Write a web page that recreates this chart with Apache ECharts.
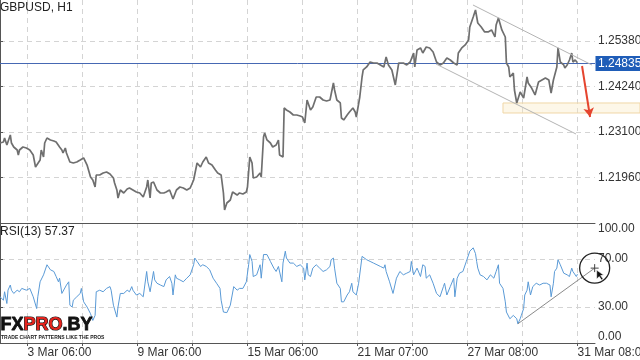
<!DOCTYPE html>
<html><head><meta charset="utf-8">
<script src="https://cdn.jsdelivr.net/npm/echarts@6/dist/echarts.min.js"></script>
<style>html,body{margin:0;padding:0;background:#fff;}#c{width:640px;height:360px;}</style>
</head><body><div id="c"></div>
<script>
// ---- data (hour index from the left edge of the chart) ----
const priceHours = [0,3,4,6,9,10,12,15,16,17,20,23,26,29,31,32,35,36,38,39,41,44,47,49,52,54,55,57,58,61,64,67,70,73,76,79,81,83,84,87,90,93,96,99,100,102,103,105,108,111,113,116,119,122,125,128,129,131,132,134,137,140,143,145,148,151,154,157,160,163,166,169,
172,175,177,180,182,185,188,190,193,195,196,198,201,203,207,209,212,215,216,218,220,221,224,227,228,230,231,233,236,238,241,243,244,247,248,250,253,256,259,262,264,266,268,269,271,273,276,279,282,285,288,291,292,294,297,298,300,303,305,308,310,311,314,316,317,320,323,326,329,332,335,337,339,342,345,348,
349,352,355,358,361,362,364,367,369,372,375,378,381,384,387,390,393,396,399,400,403,406,409,410,413,415,417,420,423,426,429,432,433,435,438,441,442,444,445,448,449,451,454,457,460,461,464,467,470,473,476,479,481,483,486,487,489,492,493,495,497,499,500,502,504];
const priceValues = [1.22824,1.22849,1.22950,1.22774,1.23025,1.22824,1.22724,1.22649,1.22524,1.22649,1.22724,1.22699,1.22649,1.22524,1.22223,1.22273,1.22398,1.22649,1.22474,1.22824,1.22950,1.22900,1.22875,1.22849,1.22724,1.22649,1.22574,1.22699,1.22574,1.22348,1.22323,1.22348,1.22398,1.22449,1.22273,1.21973,1.21897,1.21722,1.22023,1.22023,1.22073,1.22098,1.22048,1.21947,1.21822,1.21647,1.21446,1.21647,1.21572,1.21672,1.21697,1.21647,1.21597,1.21572,1.21471,1.21722,1.21897,1.21446,1.21822,1.21847,1.21647,1.21572,1.21572,1.21597,1.21647,1.21421,1.21647,1.21722,1.21697,1.21647,1.21697,1.21897,
1.22323,1.22223,1.22348,1.22474,1.22323,1.22273,1.22148,1.22073,1.22023,1.21572,1.21146,1.21321,1.21396,1.21597,1.21521,1.21572,1.21546,1.21597,1.21722,1.22474,1.22323,1.21947,1.21973,1.22073,1.21973,1.22975,1.23075,1.22900,1.22824,1.22724,1.22774,1.22900,1.22524,1.22474,1.23701,1.23651,1.23601,1.23526,1.23526,1.23501,1.23476,1.23326,1.23902,1.23952,1.23651,1.23726,1.23977,1.23977,1.23902,1.23877,1.23902,1.24328,1.24152,1.23902,1.23827,1.23451,1.23401,1.23526,1.23601,1.23701,1.23601,1.23476,1.23977,1.24478,1.24654,1.24729,1.24854,1.24829,1.24829,1.24779,1.24729,1.24979,1.24779,1.24654,1.24278,1.24829,
1.24854,1.24829,1.24779,1.24854,1.25079,1.24729,1.25155,1.25205,1.25079,1.25230,1.25205,1.25105,1.24854,1.24779,1.24829,1.24954,1.24904,1.24829,1.24779,1.25079,1.25205,1.25280,1.25405,1.25731,1.25981,1.26157,1.25831,1.25731,1.25606,1.25606,1.25656,1.25480,1.25781,1.25956,1.25656,1.25480,1.24829,1.24729,1.24478,1.24578,1.24152,1.23827,1.24102,1.23952,1.24478,1.24328,1.24202,1.24027,1.24353,1.24403,1.24453,1.24403,1.24077,1.24403,1.24729,1.25205,1.24854,1.24779,1.24704,1.24779,1.24904,1.25079,1.24854,1.24904,1.24835];

const rsiHours = [0,3,4,6,7,9,10,12,15,17,19,20,23,26,29,32,33,35,38,41,44,47,49,51,52,54,55,58,60,61,63,64,67,70,71,73,76,79,81,83,84,87,90,93,96,97,99,102,103,105,108,111,113,115,116,119,122,125,128,129,131,134,135,137,140,143,145,148,150,151,153,154,157,160,163,166,169,170,172,175,177,180,183,186,189,192,193,195,198,201,204,207,209,212,215,217,218,220,221,224,227,228,230,233,236,239,241,243,246,247,249,250,253,
256,259,262,265,266,268,269,271,273,276,279,282,285,288,289,291,292,294,297,298,300,303,305,307,308,311,313,314,316,317,320,323,326,329,332,335,336,337,340,343,346,349,352,355,358,359,361,364,367,369,371,372,375,378,381,384,387,388,390,393,396,397,399,401,404,407,410,413,415,416,417,419,422,425,428,431,433,435,436,439,441,442,445,448,451,452,454,455,457,458,460,461,463,465,468,471,474,477,480,481,483,484,486,487,489,492,495,497,499,500,503,504];
const rsiValues = [38.5,35.7,42.7,32.9,44.1,48.3,44,41.3,44,42.7,45.5,47,44,45.5,38.5,28.7,38.5,51,56.8,65.2,61,59.6,55.4,51,54,41.3,40,48.3,51,31.5,30,35.7,38.5,41.3,45.5,34.3,30,24.4,18.8,23,42.7,44,42.7,45.5,47,44,31.5,21.6,30,41.3,41.3,44,42.7,47,44,40,41.3,38.5,59.6,51,42.7,59.6,52.6,49.8,48.3,47,52.6,55.4,49.8,40,56.8,54,52.6,51,54,56.8,65.2,70.8,68,63.8,65.2,63.8,61,54,49.8,45.5,35.7,25.8,25.3,31.5,47,44,45.5,45.5,51,65.2,73.7,68,55.4,56.8,65.2,54,73.7,73.7,68,62.4,59.6,63.8,51,66.6,76.5,70.8,66.6,
66.6,63.8,65.2,62.4,52.6,66.6,56.8,55.4,62.4,65.2,62.4,59.6,61,63.8,69.4,70.8,62.4,49.8,45.5,34.3,34.3,40,42.7,49.8,42.7,40,49.8,48.3,72.2,73.7,69.4,68,66.6,65.2,63.8,62.4,65.2,59.6,51,41.3,54,59.6,56.8,58.2,59.6,68,56.8,62.4,55.4,65.2,63.8,54,56.8,49.8,41.3,38.5,47,49.8,40,47,54,38.5,54,58.2,59.6,68,76.5,79.3,74.5,68,62.4,56.8,55.4,52.6,56.8,54,59.6,65.2,49.8,45.5,34.3,25.8,20.2,23,20.2,16,20.2,23,28.7,40,44,51,40,47,49.8,48.3,49.8,49.8,48.3,38.5,49.8,59.6,62.4,69.4,65.2,58.2,56.8,55.4,62.4,59.6,55.4,57.37];

const gridHours = [24,72,120,168,216,264,312,360,408,456,504];
const dateTickHours = [24,120,216,312,408,504];
const dateTickLabels = ['3 Mar 06:00','9 Mar 06:00','15 Mar 06:00','21 Mar 07:00','27 Mar 08:00','31 Mar 08:00'];
const priceTicks = [1.2196,1.2310,1.2424,1.2538];
const rsiLabelTicks = [0,30,70,100];
const rsiGridTicks = [30,70];
const lastPrice = 1.24835;
const lastRsi = 57.37;
const channelUpper = [[412.8,1.26282],[516.6,1.24779]];
const channelLower = [[380.5,1.24804],[502.7,1.23050]];
const arrowLine = [[508,1.24754],[515,1.23476]];
const zoneStartHour = 439;
const zoneTop = 1.23827, zoneBottom = 1.23576;
const rsiTrend = [[452,16],[519,62.4]];

const FONT = 'Liberation Sans, Arial, sans-serif';
const xMax = 519.3;
const dash = {color:'#d4d4d4', type:[5,4], width:1};

const chart = echarts.init(document.getElementById('c'), null, {renderer:'canvas'});
const pricePts = priceHours.map((h,i)=>[h, priceValues[i]]);
const rsiPts = rsiHours.map((h,i)=>[h, rsiValues[i]]);

chart.setOption({
  animation:false,
  backgroundColor:'#fff',
  grid:[
    {left:0, right:45, top:0, height:223, outerBoundsMode:'none', containLabel:false},
    {left:0, right:45, top:223, height:120, outerBoundsMode:'none', containLabel:false}
  ],
  xAxis:[
    {type:'value', gridIndex:0, min:0, max:xMax,
     axisLine:{show:true, lineStyle:{color:'#555'}},
     axisTick:{show:false, customValues:gridHours},
     axisLabel:{show:false, customValues:gridHours},
     splitLine:{show:true, lineStyle:dash}},
    {type:'value', gridIndex:1, min:0, max:xMax,
     axisLine:{show:true, lineStyle:{color:'#555'}},
     axisTick:{show:true, length:3, customValues:gridHours, lineStyle:{color:'#555'}},
     axisLabel:{show:true, customValues:dateTickHours, align:'left', margin:4,
       color:'#333', fontSize:12, fontFamily:FONT,
       formatter:v=>{const i=dateTickHours.indexOf(Math.round(v)); return i>=0?dateTickLabels[i]:'';}},
     splitLine:{show:true, lineStyle:dash}}
  ],
  yAxis:[
    {type:'value', gridIndex:0, position:'right', min:1.20820, max:1.26407,
     axisLine:{show:true, lineStyle:{color:'#555'}},
     axisTick:{show:true, length:3, customValues:priceTicks, lineStyle:{color:'#555'}},
     axisLabel:{customValues:priceTicks, formatter:v=>v.toFixed(5), margin:3,
       color:'#333', fontSize:12, fontFamily:FONT},
     splitLine:{show:true, lineStyle:dash}},
    {type:'value', gridIndex:1, position:'right', min:0, max:100,
     axisLine:{show:true, lineStyle:{color:'#555'}},
     axisTick:{show:true, length:3, customValues:rsiGridTicks, lineStyle:{color:'#555'}},
     axisLabel:{customValues:rsiLabelTicks, formatter:v=>v.toFixed(2), margin:3,
       color:'#333', fontSize:12, fontFamily:FONT,
       verticalAlignMinLabel:'bottom', verticalAlignMaxLabel:'top'},
     splitLine:{show:true, lineStyle:dash}}
  ],
  series:[
    {type:'line', xAxisIndex:0, yAxisIndex:0, data:pricePts, showSymbol:false, z:3,
     lineStyle:{color:'#6f6f6f', width:1.7},
     markLine:{silent:true, symbol:['none','none'], animation:false,
       data:[
         [{coord:channelUpper[0], lineStyle:{color:'#b4b4b4', width:1, type:'solid'}, label:{show:false}},{coord:channelUpper[1]}],
         [{coord:channelLower[0], lineStyle:{color:'#b4b4b4', width:1, type:'solid'}, label:{show:false}},{coord:channelLower[1]}],
         [{coord:arrowLine[0], symbol:'none', lineStyle:{color:'#e5452f', width:2, type:'solid'}, label:{show:false}},
          {coord:arrowLine[1], symbol:'arrow', symbolSize:[8,9]}]
       ]}},
    {type:'line', xAxisIndex:1, yAxisIndex:1, data:rsiPts, showSymbol:false,
     lineStyle:{color:'#5a9ad6', width:1},
     markLine:{silent:true, symbol:['none','none'], animation:false,
       data:[[{coord:rsiTrend[0], lineStyle:{color:'#8a8a8a', width:1, type:'solid'}, label:{show:false}},{coord:rsiTrend[1]}]]}}
  ]
});

// annotations positioned from data coordinates
const zA = chart.convertToPixel({xAxisIndex:0, yAxisIndex:0}, [zoneStartHour, zoneTop]);
const zB = chart.convertToPixel({xAxisIndex:0, yAxisIndex:0}, [zoneStartHour, zoneBottom]);
const pL = chart.convertToPixel({xAxisIndex:0, yAxisIndex:0}, [0, lastPrice]);
const pR = chart.convertToPixel({xAxisIndex:0, yAxisIndex:0}, [xMax, lastPrice]);
const cC = chart.convertToPixel({xAxisIndex:1, yAxisIndex:1}, rsiTrend[1]);
const cx = cC[0], cy = cC[1];
const py = Math.round(pL[1]) + 0.5;

chart.setOption({
  graphic:[
    {type:'rect', z:1, shape:{x:zA[0], y:zA[1], width:640-zA[0], height:zB[1]-zA[1]},
     style:{fill:'rgba(250,232,190,0.35)', stroke:'#f0d7a6', lineWidth:1}},
    {type:'line', z:2, shape:{x1:pL[0], y1:py, x2:pR[0], y2:py}, style:{stroke:'#4668b3', lineWidth:1}},
    {type:'rect', z:20, shape:{x:pR[0]+0.5, y:py-7.5, width:640-pR[0], height:15}, style:{fill:'#1f5db8'}},
    {type:'text', z:21, x:pR[0]+3, y:py, style:{text:lastPrice.toFixed(5), fill:'#fff', fontSize:12, fontFamily:FONT, verticalAlign:'middle'}},
    {type:'text', left:0, top:2, z:10, style:{text:'GBPUSD, H1', fill:'#222', fontSize:12, fontFamily:FONT}},
    {type:'text', left:0, top:226, z:10, style:{text:'RSI(13) ' + lastRsi.toFixed(2), fill:'#222', fontSize:12, fontFamily:FONT}},
    {type:'circle', z:10, shape:{cx:cx, cy:cy, r:15}, style:{fill:'none', stroke:'#222', lineWidth:1.3}},
    {type:'line', z:10, shape:{x1:cx-4, y1:cy, x2:cx+4, y2:cy}, style:{stroke:'#444', lineWidth:1}},
    {type:'line', z:10, shape:{x1:cx, y1:cy-4, x2:cx, y2:cy+4}, style:{stroke:'#444', lineWidth:1}},
    {type:'polygon', z:11, shape:{points:[[cx+2,cy+2],[cx+2,cy+11],[cx+4.5,cy+8.5],[cx+7,cy+12],[cx+8.5,cy+11],[cx+6,cy+7.5],[cx+9,cy+7]]},
     style:{fill:'#111', stroke:'#fff', lineWidth:0.6}},
    {type:'text', left:0, top:315, z:12,
     style:{text:'{a|FX}{b|PRO}{a|.BY}', rich:{
       a:{fontSize:18, fontWeight:900, fill:'#111', stroke:'#111', lineWidth:0.8, fontFamily:FONT},
       b:{fontSize:18, fontWeight:900, fill:'#e3231d', stroke:'#111', lineWidth:1.2, fontFamily:FONT}}}},
    {type:'text', left:1, top:335, z:12,
     style:{text:'TRADE CHART PATTERNS LIKE THE PROS', fill:'#222', fontSize:5, fontWeight:'bold', fontFamily:FONT}}
  ]
});
</script>
</body></html>
